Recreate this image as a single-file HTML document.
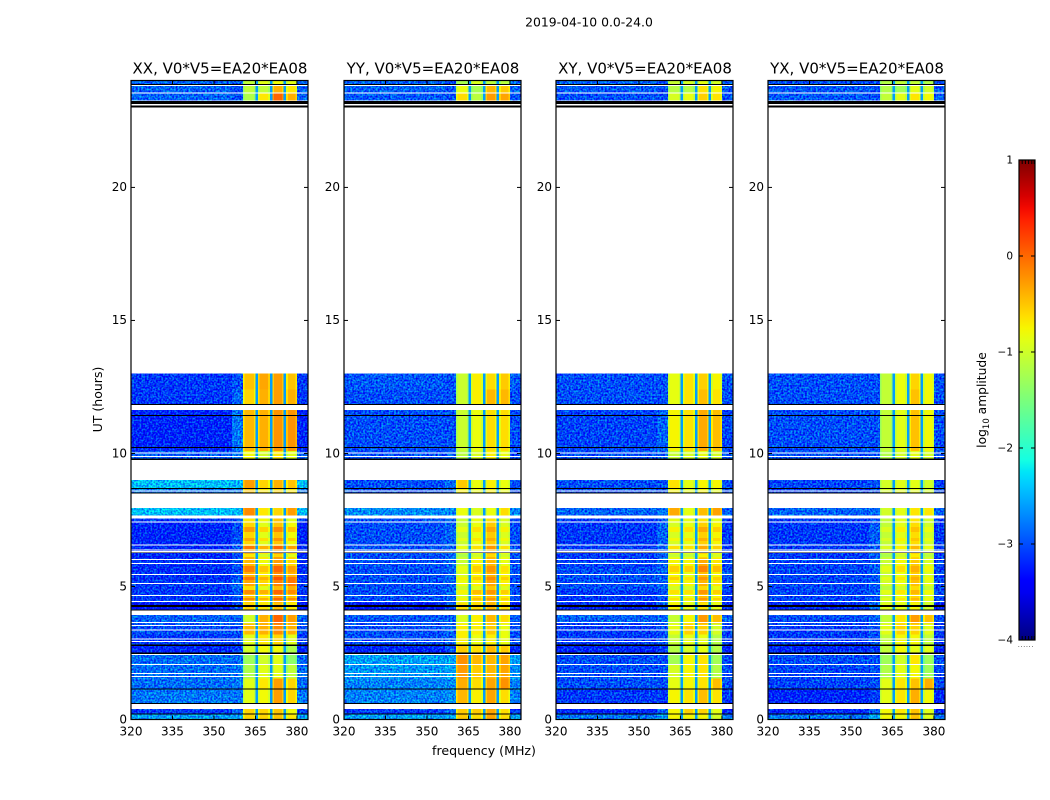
<!DOCTYPE html>
<html lang="en">
<head>
<meta charset="utf-8">
<title>2019-04-10 0.0-24.0</title>
<style>
html,body{margin:0;padding:0;background:#fff;}
svg{display:block;}
text{font-family:"DejaVu Sans","Liberation Sans",sans-serif;fill:#000;}
</style>
</head>
<body>
<svg id="chart" xmlns="http://www.w3.org/2000/svg" width="1050" height="800" viewBox="0 0 1050 800">
  <defs>
    <filter id="speckle" filterUnits="objectBoundingBox" x="0" y="0" width="1" height="1" color-interpolation-filters="sRGB">
      <feTurbulence type="fractalNoise" baseFrequency="0.55" numOctaves="1" seed="7" result="n"/>
      <feColorMatrix in="n" type="matrix" values="0 0 0 0 0.5  0 2.2 0 0 -0.6  0 0 1 0 0  0 0 0 0 1" result="m"/>
      <feComposite in="SourceGraphic" in2="m" operator="arithmetic" k1="0" k2="1" k3="0.7" k4="-0.35" result="s"/>
      <feComposite in="s" in2="SourceAlpha" operator="in"/>
    </filter>
    <linearGradient id="jet-gradient" x1="0" y1="1" x2="0" y2="0"></linearGradient>
  </defs>
  <text x="589" y="26.5" font-size="12.4" text-anchor="middle">2019-04-10 0.0-24.0</text>
  <text x="484" y="755" font-size="12.6" text-anchor="middle">frequency (MHz)</text>
  <text x="102" y="399.5" font-size="12.5" text-anchor="middle" transform="rotate(-90 102 399.5)">UT (hours)</text>
  <text x="986" y="400" font-size="12.3" text-anchor="middle" transform="rotate(-90 986 400)">log<tspan font-size="8.5" dy="3">10</tspan><tspan dy="-3"> amplitude</tspan></text>
  <g id="panels"></g>
  <g id="colorbar"></g>
</svg>
<script>
// ---- chart data ----
const panelTitles = ['XX, V0*V5=EA20*EA08', 'YY, V0*V5=EA20*EA08', 'XY, V0*V5=EA20*EA08', 'YX, V0*V5=EA20*EA08'];
const xTickValues = [320, 335, 350, 365, 380];
const yTickValues = [0, 5, 10, 15, 20];
const colorbarTickValues = [1, 0, -1, -2, -3, -4];
const notchLevel = -2.6;

// frequency channel edges (MHz), the level each channel uses, and its roll-off relative to that level
const freqEdges = [320, 356.5, 360.5, 361.1, 364.4, 365, 365.9, 366.5, 369.6, 370.2, 371.1, 371.7, 374.6, 375.2, 376.1, 376.7, 379.4, 380, 384];
const channelLevel = [0, 1, 2, 2, 2, 'n', 3, 3, 3, 'n', 4, 4, 4, 'n', 5, 5, 5, 0];
const channelOffset = [0, 0, -0.25, 0, -0.2, 0, -0.25, 0, -0.2, 0, -0.25, 0, -0.2, 0, -0.25, 0, -0.2, 0];
const panelSignalShift = [0.12, 0.08, 0.05, 0.03];

// time bands in UT hours
const timeBands = [
  [0, 0.2], [0.2, 0.39], [0.62, 1.15], [1.15, 1.55], [1.55, 2.05], [2.05, 2.5], [2.5, 2.8],
  [2.8, 3.2], [3.2, 3.6], [3.6, 3.93], [4.11, 4.4], [4.4, 4.85], [4.85, 5.25], [5.25, 5.65],
  [5.65, 6.05], [6.05, 6.5], [6.5, 7.45], [7.45, 7.56], [7.67, 7.95], [8.52, 8.68], [8.68, 9.0],
  [9.8, 10.1], [10.1, 11.64], [11.86, 12.4], [12.4, 13.0], [23.26, 23.54], [23.56, 23.84], [23.86, 24.0]
];

// log10 amplitude per band: [low, mid, sub-band A, B, C, D]
const levelsXX = [
  [-2.6,-2.6,-.7,-.7,-.6,-.8],[-3.1,-2.9,-.7,-.7,-.6,-.9],[-2.8,-2.8,-1,-.9,-.4,-.7],[-2.85,-2.8,-1,-.8,-.4,-.7],
  [-2.85,-2.8,-1.3,-1,-1,-1.2],[-2.85,-2.85,-1.4,-1.1,-1,-1.5],[-3.2,-3.1,-1.1,-.9,-.9,-1.3],
  [-3.1,-3,-1,-.8,-.7,-1],[-3,-3,-.55,-.5,-.3,-.5],[-2.9,-2.9,-1.1,-.5,-.1,-.4],[-3.3,-3,-.7,-.8,-.6,-.8],
  [-3.1,-3,-.6,-.8,-.4,-.6],[-3.1,-2.9,-.45,-.7,-.25,-.2],[-3.15,-3,-.5,-.8,-.3,-.5],[-3.15,-3,-.55,-.9,-.4,-.7],
  [-3.2,-3,-.5,-.8,-.4,-.7],[-3.2,-3,-.7,-1,-.6,-.9],[-3.1,-3,-.8,-.9,-.6,-1],[-2.45,-2.5,-.3,-.8,-.7,-.4],
  [-2.8,-2.8,-.6,-.8,-.7,-.8],[-2.45,-2.5,-.4,-.7,-.5,-.6],[-2.95,-2.8,-.9,-1.1,-.8,-1],[-3.2,-2.8,-.55,-.5,-.35,-.35],
  [-3.1,-2.9,-.7,-.5,-.4,-.5],[-3.1,-3,-.6,-.45,-.4,-.6],[-2.9,-3,-1.3,-.8,-.1,-.5],[-2.9,-3,-1.2,-1.2,-.5,-.8],[-2.9,-3,-1.2,-1,-.9,-1]
];
const levelsYY = [
  [-2.6,-2.6,-.6,-.7,-.4,-.7],[-3.1,-2.9,-.6,-.6,-.4,-.7],[-2.75,-2.7,-.5,-.8,-.4,-.7],[-2.75,-2.7,-.45,-.7,-.4,-.3],
  [-2.65,-2.6,-.35,-.6,-.5,-.4],[-2.6,-2.6,-.3,-.5,-.5,-.4],[-3.2,-3,-.6,-.7,-.5,-.6],
  [-3,-2.9,-.8,-.9,-.8,-.9],[-3,-2.9,-.8,-.8,-.6,-.9],[-2.95,-2.9,-1,-.8,-.5,-.7],[-3.3,-3,-.7,-.7,-.5,-.7],
  [-3,-2.9,-1,-.7,-.5,-.8],[-3,-2.9,-.9,-.8,-.4,-.8],[-3,-2.9,-1,-.8,-.45,-.8],[-3,-2.9,-1.1,-.8,-.5,-.9],
  [-3,-2.9,-1.1,-.9,-.5,-.9],[-3,-2.9,-1.1,-.9,-.6,-1],[-3,-2.9,-1.1,-.9,-.7,-1],[-2.7,-2.7,-.9,-1,-.9,-.7],
  [-3,-2.9,-.8,-.9,-.8,-.9],[-3,-2.9,-.6,-.9,-.8,-.9],[-3,-2.9,-1.2,-1,-.8,-.9],[-3,-3,-1.1,-.9,-.7,-.7],
  [-3,-3,-1.1,-.8,-.5,-.5],[-2.95,-3,-1.1,-.8,-.7,-.6],[-2.95,-3,-.7,-1.2,-.35,-.4],[-2.9,-3,-.9,-1.3,-.5,-.6],[-2.9,-3,-1.3,-1,-1.2,-1.2]
];
const levelsXY = [
  [-2.8,-2.6,-.8,-.8,-.8,-1],[-3.2,-2.9,-.8,-.6,-.6,-.9],[-3.1,-3.1,-.8,-.7,-.5,-.7],[-3,-3,-.9,-.8,-.7,-.5],
  [-3,-3,-1,-.8,-.7,-1.2],[-3,-3,-1.3,-.8,-.7,-1.3],[-3.2,-3.1,-1.2,-1,-.9,-1.2],
  [-3.1,-3,-1.1,-.9,-.9,-1.2],[-3.1,-3,-.9,-.6,-.6,-1],[-2.9,-2.9,-1.1,-.8,-.3,-.5],[-3.2,-2.9,-.8,-.9,-.7,-.9],
  [-3.1,-3,-.9,-.9,-.5,-.8],[-3,-2.9,-.8,-.8,-.45,-.7],[-3,-2.9,-.8,-.9,-.5,-.8],[-3.05,-2.9,-.8,-.8,-.4,-.7],
  [-3.1,-2.9,-.9,-.9,-.6,-.8],[-3.1,-2.9,-1,-.9,-.6,-.8],[-3.1,-3,-.9,-.9,-.7,-.9],[-2.9,-2.8,-.4,-.9,-.5,-.35],
  [-3,-3,-.8,-.9,-.8,-.9],[-3,-3,-.7,-.9,-.8,-.8],[-3,-2.9,-1.1,-1,-.9,-1],[-3.05,-2.9,-.8,-.7,-.4,-.5],
  [-3,-3,-.9,-.7,-.5,-.7],[-3,-3,-.9,-.7,-.6,-.8],[-3,-3,-1,-.9,-.6,-.7],[-2.95,-3,-1.2,-1.2,-.7,-.8],[-2.9,-3,-1.1,-1,-.9,-1]
];
const levelsYX = [
  [-2.8,-2.6,-.8,-.8,-.5,-.9],[-3.2,-2.9,-.8,-.7,-.5,-.9],[-3.2,-3.1,-.9,-.7,-.4,-.8],[-3.05,-3,-.9,-.7,-.5,-.4],
  [-3.05,-3,-1.2,-.9,-.8,-1.3],[-3,-3,-1.3,-1,-.7,-1.3],[-3.2,-3.1,-1.1,-.8,-.9,-.9],
  [-3.1,-3,-1.1,-.8,-.8,-1.1],[-3.1,-3,-.9,-.6,-.6,-.9],[-3,-2.9,-1.1,-.7,-.3,-.5],[-3.2,-2.9,-.9,-.9,-.8,-1],
  [-3.05,-2.95,-1.05,-.85,-.6,-.95],[-3.05,-2.95,-1,-.85,-.5,-.9],[-3.05,-2.95,-1.05,-.85,-.55,-.95],[-3.05,-2.95,-1.05,-.8,-.55,-.95],
  [-3.1,-2.95,-1.1,-.9,-.6,-1],[-3.1,-2.95,-1.1,-.9,-.65,-1],[-3.1,-3,-1.1,-.9,-.7,-1],[-2.9,-2.85,-1,-.9,-.7,-.7],
  [-3.05,-3,-1,-.9,-.9,-1],[-3.05,-3,-1,-.9,-.9,-1],[-3,-2.95,-1.2,-1,-.9,-1],[-3,-3,-1.1,-.9,-.5,-.8],
  [-3,-3,-1.1,-.85,-.5,-.8],[-3,-3,-1.1,-.85,-.6,-.8],[-2.95,-3,-1.1,-.9,-.7,-.8],[-2.95,-3,-1.2,-1.3,-.9,-1],[-3,-3,-1.2,-1.1,-1.1,-1.2]
];
const panelLevels = [levelsXX, levelsYY, levelsXY, levelsYX];

// narrow time streaks in the signal band: [start hour, end hour, level change]; scaled per panel
const streakRows = [
  [4.49,4.57,0.3],[4.72,4.87,0.3],[4.87,5.02,-0.3],[5.24,5.36,0.3],[5.55,5.77,0.3],
  [6.11,6.22,-0.3],[6.41,6.52,0.3],[6.71,6.82,0.25],[7.05,7.24,0.3]
];
const streakGain = [1, 0.6, 0.7, 0.5];

// flagged time ranges (UT hours) drawn across every panel
const whiteFlags = [
  [1.59,1.63],[1.715,1.755],[2.055,2.095],[2.425,2.465],[2.905,2.945],[3.01,3.05],[3.345,3.385],[3.51,3.55],[3.63,3.67],
  [4.42,4.46],[4.64,4.68],[5.09,5.13],[5.43,5.47],[5.845,5.885],[5.995,6.035],[6.27,6.34],[6.35,6.39],[6.54,6.58],[7.405,7.445],
  [8.57,8.61],[9.87,9.91],[10,10.04],[23.53,23.57],[23.82,23.85]
];
const blackFlags = [
  [0.18,0.22],[0.585,0.625],[1.13,1.17],[2.46,2.52],[2.77,2.81],[4.1,4.13],[4.22,4.3],[6.25,6.28],[8.49,8.53],[8.67,8.71],
  [9.75,9.81],[10.21,10.25],[11.41,11.45],[11.82,11.86],[23.0,23.08],[23.13,23.25],[23.85,23.89]
];

// ---- layout / axis functions ----
const NS = 'http://www.w3.org/2000/svg';
const panelLeft = [131, 344, 556, 768];
const panelWidth = 177;
const plotTop = 81, plotBottom = 719.5;
const hourMax = 24, freqMin = 320, freqMax = 384;
const cbarX = 1019, cbarW = 16, cbarTop = 160, cbarBottom = 640;
const cbarMin = -4, cbarMax = 1;

function xScale(panel, f) { return panelLeft[panel] + (f - freqMin) / (freqMax - freqMin) * panelWidth; }
function yScale(h) { return plotBottom - h / hourMax * (plotBottom - plotTop); }
function cbarScale(v) { return cbarBottom - (v - cbarMin) / (cbarMax - cbarMin) * (cbarBottom - cbarTop); }
function clamp01(v) { return Math.max(0, Math.min(1, v)); }
function piecewise(t, pts) {
  for (let i = 1; i < pts.length; i++) {
    if (t <= pts[i][0]) {
      const a = pts[i - 1], b = pts[i];
      return a[1] + (b[1] - a[1]) * (t - a[0]) / (b[0] - a[0]);
    }
  }
  return pts[pts.length - 1][1];
}
function jet(v) {
  const t = clamp01((v - cbarMin) / (cbarMax - cbarMin));
  const r = piecewise(t, [[0, 0], [0.35, 0], [0.66, 1], [0.89, 1], [1, 0.5]]);
  const g = piecewise(t, [[0, 0], [0.125, 0], [0.375, 1], [0.64, 1], [0.91, 0], [1, 0]]);
  const b = piecewise(t, [[0, 0.5], [0.11, 1], [0.34, 1], [0.65, 0], [1, 0]]);
  return 'rgb(' + Math.round(r * 255) + ',' + Math.round(g * 255) + ',' + Math.round(b * 255) + ')';
}
function make(tag, parent, attrs) {
  const el = document.createElementNS(NS, tag);
  for (const k in attrs) el.setAttribute(k, attrs[k]);
  parent.appendChild(el);
  return el;
}
function bandIndexAt(hour) {
  for (let b = 0; b < timeBands.length; b++) {
    if (hour >= timeBands[b][0] && hour < timeBands[b][1]) return b;
  }
  return -1;
}

// ---- panels ----
const panelsRoot = document.getElementById('panels');
panelTitles.forEach(function (title, p) {
  const left = panelLeft[p], right = left + panelWidth;
  const g = make('g', panelsRoot, {});
  
  

  const lowGroup = make('g', g, { filter: 'url(#speckle)' });
  
  
  const highGroup = make('g', g, {});
  
  

  timeBands.forEach(function (band, b) {
    const yTop = yScale(band[1]), yBot = yScale(band[0]);
    channelLevel.forEach(function (idx, c) {
      const isSignal = idx !== 'n' && idx >= 2;
      const v = idx === 'n' ? notchLevel : panelLevels[p][b][idx] + channelOffset[c] + (isSignal ? panelSignalShift[p] : 0);
      const x0 = xScale(p, freqEdges[c]), x1 = xScale(p, freqEdges[c + 1]);
      const target = (idx === 0 || idx === 1) ? lowGroup : highGroup;
      const cell = make('rect', target, { x: x0, y: yTop, width: x1 - x0, height: yBot - yTop, fill: jet(v), 'shape-rendering': 'crispEdges' });
      
      
    });
  });

  streakRows.forEach(function (st) {
    const b = bandIndexAt((st[0] + st[1]) / 2);
    if (b < 0) return;
    channelLevel.forEach(function (idx, c) {
      if (idx === 'n' || idx < 2) return;
      const v = panelLevels[p][b][idx] + channelOffset[c] + panelSignalShift[p] + st[2] * streakGain[p];
      const x0 = xScale(p, freqEdges[c]), x1 = xScale(p, freqEdges[c + 1]);
      const cell = make('rect', highGroup, { x: x0, y: yScale(st[1]), width: x1 - x0, height: yScale(st[0]) - yScale(st[1]), fill: jet(v), 'shape-rendering': 'crispEdges' });
      
      
    });
  });

  whiteFlags.forEach(function (fl) {
    const r = make('rect', g, { x: left, y: yScale(fl[1]), width: panelWidth, height: yScale(fl[0]) - yScale(fl[1]), fill: '#fff', 'shape-rendering': 'crispEdges' });
    
    
  });
  blackFlags.forEach(function (fl) {
    const r = make('rect', g, { x: left, y: yScale(fl[1]), width: panelWidth, height: yScale(fl[0]) - yScale(fl[1]), fill: '#000', 'shape-rendering': 'crispEdges' });
    
    
  });

  const frame = make('rect', g, { x: left, y: plotTop - 0.5, width: panelWidth, height: plotBottom - plotTop + 0.5, fill: 'none', stroke: '#000', 'stroke-width': 1.2 });
  
  

  xTickValues.forEach(function (f) {
    const x = xScale(p, f);
    const t1 = make('line', g, { x1: x, x2: x, y1: plotBottom, y2: plotBottom - 4, stroke: '#000', 'stroke-width': 1 });
    
    
    const t2 = make('line', g, { x1: x, x2: x, y1: plotTop, y2: plotTop + 4, stroke: '#000', 'stroke-width': 1 });
    
    
    const label = make('text', g, { x: x, y: plotBottom + 16, 'font-size': 12, 'text-anchor': 'middle' });
    label.textContent = f;
    
    
  });
  yTickValues.forEach(function (h) {
    const y = yScale(h);
    const t1 = make('line', g, { x1: left, x2: left + 4, y1: y, y2: y, stroke: '#000', 'stroke-width': 1 });
    
    
    const t2 = make('line', g, { x1: right, x2: right - 4, y1: y, y2: y, stroke: '#000', 'stroke-width': 1 });
    
    
    const label = make('text', g, { x: left - 4, y: y + 3.8, 'font-size': 12, 'text-anchor': 'end' });
    label.textContent = h;
    
    
  });
  const titleEl = make('text', g, { x: left + panelWidth / 2 + 0.5, y: 73.5, 'font-size': 15, 'text-anchor': 'middle' });
  titleEl.textContent = title;
  
  
});

// ---- colorbar ----
const grad = document.getElementById('jet-gradient');
for (let i = 0; i <= 40; i++) {
  const frac = i / 40;
  make('stop', grad, { offset: frac, 'stop-color': jet(cbarMin + frac * (cbarMax - cbarMin)) });
}
const cbar = document.getElementById('colorbar');
const cbarBody = make('rect', cbar, { x: cbarX, y: cbarTop, width: cbarW, height: cbarBottom - cbarTop, fill: 'url(#jet-gradient)', stroke: '#000', 'stroke-width': 1.2 });


colorbarTickValues.forEach(function (v) {
  const y = cbarScale(v);
  const a = make('line', cbar, { x1: cbarX, x2: cbarX + 4, y1: y, y2: y, stroke: '#000', 'stroke-width': 1 });
  
  
  const b = make('line', cbar, { x1: cbarX + cbarW, x2: cbarX + cbarW - 4, y1: y, y2: y, stroke: '#000', 'stroke-width': 1 });
  
  
  const t = make('text', cbar, { x: cbarX - 6, y: y + 3.5, 'font-size': 10.5, 'text-anchor': 'end' });
  t.textContent = v < 0 ? '\u2212' + Math.abs(v) : String(v);
  
  
});
[0.2, 0.4, 0.6, 0.8, 0.95].forEach(function (frac) {
  const x = cbarX + frac * cbarW;
  const top = make('line', cbar, { x1: x, x2: x, y1: cbarTop, y2: cbarTop + 4, stroke: '#000', 'stroke-width': 1 });
  
  
  const bot = make('line', cbar, { x1: x, x2: x, y1: cbarBottom, y2: cbarBottom - 4, stroke: '#000', 'stroke-width': 1 });
  
  
});
const dots = make('text', cbar, { x: cbarX + cbarW / 2 - 1, y: 647, 'font-size': 6, 'text-anchor': 'middle', fill: '#666', 'letter-spacing': '0.8' });
dots.textContent = '......';


</script>
</body>
</html>
